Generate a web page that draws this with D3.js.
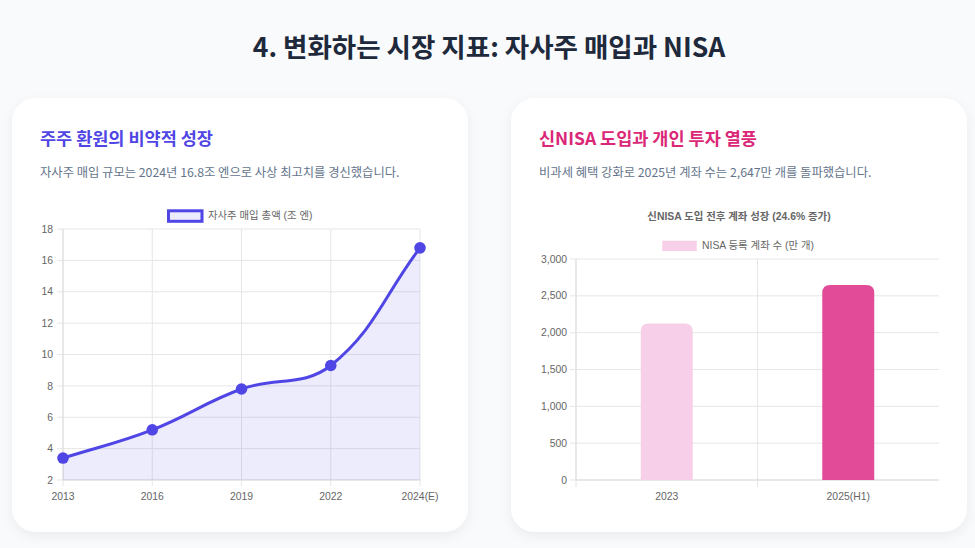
<!DOCTYPE html>
<html><head><meta charset="utf-8">
<script src="https://cdn.jsdelivr.net/npm/d3@7"></script>
<style>
html,body{margin:0;padding:0;background:#f8fafc;}
svg{display:block;}
</style></head>
<body>
<svg id="c" width="975" height="548"></svg>
<script>
// ---- data ----
const buybackYears = ["2013","2016","2019","2022","2024(E)"];
const buybackValues = [3.4, 5.2, 7.8, 9.3, 16.8];
const buybackTicks = [2,4,6,8,10,12,14,16,18];
const nisaLabels = ["2023","2025(H1)"];
const nisaValues = [2124, 2647];
const nisaTicks = [0,500,1000,1500,2000,2500,3000];
const nisaColors = ["#f7cfe8","#e14b98"];

const KR = '"Noto Sans CJK KR","Noto Sans",sans-serif';
const CH = '"Liberation Sans","Noto Sans CJK KR",Arial,sans-serif';
const svg = d3.select("#c");
const defs = svg.append("defs");
const f = defs.append("filter").attr("id","sh").attr("x","-10%").attr("y","-10%").attr("width","120%").attr("height","130%");
f.append("feDropShadow").attr("dx",0).attr("dy",4).attr("stdDeviation",6).attr("flood-color","#0f172a").attr("flood-opacity",0.06);

svg.append("text").attr("x",489).attr("y",57).attr("text-anchor","middle")
  .attr("font-family",KR).attr("font-weight",700).attr("font-size",26.5).attr("fill","#1e293b")
  .text("4. 변화하는 시장 지표: 자사주 매입과 NISA");

function card(x, title, color, sub){
  svg.append("rect").attr("x",x).attr("y",98).attr("width",456).attr("height",434).attr("rx",24)
    .attr("fill","#fff").attr("filter","url(#sh)");
  svg.append("text").attr("x",x+28).attr("y",145).attr("font-family",KR).attr("font-weight",700)
    .attr("font-size",17.5).attr("fill",color).text(title);
  svg.append("text").attr("x",x+28).attr("y",177).attr("font-family",KR)
    .attr("font-size",12.3).attr("fill","#64748b").text(sub);
}
card(12,"주주 환원의 비약적 성장","#4f46e5","자사주 매입 규모는 2024년 16.8조 엔으로 사상 최고치를 경신했습니다.");
card(511,"신NISA 도입과 개인 투자 열풍","#db2777","비과세 혜택 강화로 2025년 계좌 수는 2,647만 개를 돌파했습니다.");

const grid = "#e6e6e6", tickCol = "#666", fs = 10.4;

// ---- left line chart ----
{
  const g = svg.append("g");
  const x = d3.scalePoint().domain(buybackYears).range([63,420]);
  const y = d3.scaleLinear().domain([2,18]).range([480,229]);
  buybackTicks.forEach(t=>{
    g.append("line").attr("x1",57).attr("x2",420).attr("y1",y(t)).attr("y2",y(t)).attr("stroke",grid);
    g.append("text").attr("x",53).attr("y",y(t)).attr("dy","0.35em").attr("text-anchor","end")
      .attr("font-family",CH).attr("font-size",fs).attr("fill",tickCol).text(t);
  });
  buybackYears.forEach(c=>{
    g.append("line").attr("x1",x(c)).attr("x2",x(c)).attr("y1",229).attr("y2",486).attr("stroke",grid);
    g.append("text").attr("x",x(c)).attr("y",500).attr("text-anchor","middle")
      .attr("font-family",CH).attr("font-size",fs).attr("fill",tickCol).text(c);
  });
  g.append("line").attr("x1",63).attr("x2",420).attr("y1",480).attr("y2",480).attr("stroke","#ddd");
  g.append("line").attr("x1",63).attr("x2",63).attr("y1",229).attr("y2",480).attr("stroke","#ddd");
  const pts = buybackYears.map((c,i)=>({x:x(c), y:y(buybackValues[i])}));
  const t = 0.4;
  const cps = pts.map((cur,i)=>{
    const prev = pts[Math.max(i-1,0)], next = pts[Math.min(i+1,pts.length-1)];
    const d01 = Math.hypot(cur.x-prev.x,cur.y-prev.y), d12 = Math.hypot(next.x-cur.x,next.y-cur.y);
    let s01 = d01/(d01+d12), s12 = d12/(d01+d12);
    if(isNaN(s01)) s01=0; if(isNaN(s12)) s12=0;
    const fa=t*s01, fb=t*s12;
    return {px:cur.x-fa*(next.x-prev.x), py:cur.y-fa*(next.y-prev.y), nx:cur.x+fb*(next.x-prev.x), ny:cur.y+fb*(next.y-prev.y)};
  });
  const cx_ = v=>Math.min(Math.max(v,63),420), cy_ = v=>Math.min(Math.max(v,229),480);
  let dPath = `M${pts[0].x},${pts[0].y}`;
  for(let i=1;i<pts.length;i++){
    const a=cps[i-1], b=cps[i];
    dPath += `C${cx_(a.nx)},${cy_(a.ny)},${cx_(b.px)},${cy_(b.py)},${pts[i].x},${pts[i].y}`;
  }
  g.append("path").attr("d",dPath+`L${pts[pts.length-1].x},480L${pts[0].x},480Z`).attr("fill","rgba(79,70,229,0.1)");
  g.append("path").attr("d",dPath).attr("fill","none").attr("stroke","#4f46e5").attr("stroke-width",3);
  g.selectAll("circle.p").data(pts).join("circle").attr("cx",d=>d.x).attr("cy",d=>d.y).attr("r",5.8).attr("fill","#4f46e5");
  g.append("rect").attr("x",168.5).attr("y",210.8).attr("width",33.5).attr("height",10.5)
    .attr("fill","rgba(79,70,229,0.1)").attr("stroke","#4f46e5").attr("stroke-width",3);
  g.append("text").attr("x",208).attr("y",215).attr("dy","0.35em").attr("font-family",CH)
    .attr("font-size",fs).attr("fill",tickCol).text("자사주 매입 총액 (조 엔)");
}

// ---- right bar chart ----
{
  const g = svg.append("g");
  const x = d3.scaleBand().domain(nisaLabels).range([576,939]);
  const y = d3.scaleLinear().domain([0,3000]).range([480,259]);
  nisaTicks.forEach(t=>{
    g.append("line").attr("x1",570).attr("x2",939).attr("y1",y(t)).attr("y2",y(t)).attr("stroke",grid);
    g.append("text").attr("x",567).attr("y",y(t)).attr("dy","0.35em").attr("text-anchor","end")
      .attr("font-family",CH).attr("font-size",fs).attr("fill",tickCol).text(d3.format(",")(t));
  });
  [576, 576+x.bandwidth()].forEach(v=>{
    g.append("line").attr("x1",v).attr("x2",v).attr("y1",259).attr("y2",487).attr("stroke",grid);
  });
  g.append("line").attr("x1",576).attr("x2",939).attr("y1",480).attr("y2",480).attr("stroke","#ddd");
  g.append("line").attr("x1",576).attr("x2",576).attr("y1",259).attr("y2",480).attr("stroke","#ddd");
  const bw = 52, r = 8;
  nisaLabels.forEach((c,i)=>{
    const cx = x(c)+x.bandwidth()/2, top = y(nisaValues[i]), bot = y(0);
    const l = cx-bw/2, rr = cx+bw/2;
    g.append("path").attr("d",`M${l},${bot}L${l},${top+r}Q${l},${top} ${l+r},${top}L${rr-r},${top}Q${rr},${top} ${rr},${top+r}L${rr},${bot}Z`)
      .attr("fill",nisaColors[i]);
    g.append("text").attr("x",cx).attr("y",500).attr("text-anchor","middle")
      .attr("font-family",CH).attr("font-size",fs).attr("fill",tickCol).text(c);
  });
  g.append("text").attr("x",739).attr("y",216).attr("dy","0.35em").attr("text-anchor","middle")
    .attr("font-family",CH).attr("font-weight",700).attr("font-size",fs).attr("fill",tickCol)
    .text("신NISA 도입 전후 계좌 성장 (24.6% 증가)");
  g.append("rect").attr("x",662.3).attr("y",240.7).attr("width",34.4).attr("height",10.3).attr("fill",nisaColors[0]);
  g.append("text").attr("x",702).attr("y",245.8).attr("dy","0.35em").attr("font-family",CH)
    .attr("font-size",fs).attr("fill",tickCol).text("NISA 등록 계좌 수 (만 개)");
}
</script>
</body></html>
